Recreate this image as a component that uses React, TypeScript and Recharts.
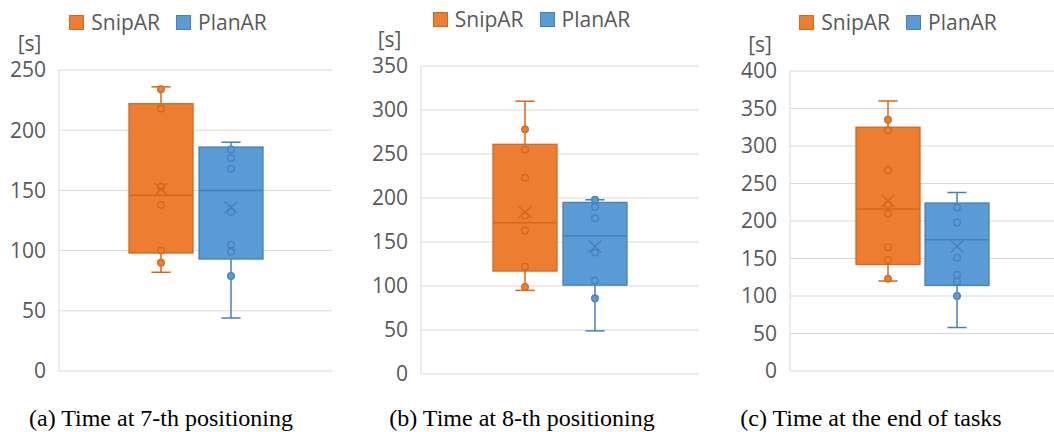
import React from 'react';
import { ComposedChart, Bar, XAxis, YAxis, CartesianGrid, Legend } from 'recharts';

// stats order: min, q1, median, q3, max, mean
const seriesNames = ['SnipAR', 'PlanAR'];

const snipStatsA = [82, 98, 146, 222, 236, 151];
const planStatsA = [44, 93, 150, 186, 190, 136];
const snipPointsA = [234, 218, 153, 138, 100, 90];
const planPointsA = [184, 177, 168, 132, 105, 99, 79];

const snipStatsB = [95, 117, 172, 261, 310, 184];
const planStatsB = [49, 101, 157, 195, 198, 145];
const snipPointsB = [278, 255, 223, 180, 163, 122, 99];
const planPointsB = [198, 190, 177, 138, 106, 86];

const snipStatsC = [120, 142, 216, 325, 360, 227];
const planStatsC = [58, 114, 175, 224, 238, 166];
const snipPointsC = [335, 321, 268, 222, 210, 165, 148, 123];
const planPointsC = [218, 198, 151, 128, 119, 100];

const ticksA = [0, 50, 100, 150, 200, 250];
const ticksB = [0, 50, 100, 150, 200, 250, 300, 350];
const ticksC = [0, 50, 100, 150, 200, 250, 300, 350, 400];

const captions = [
  '(a) Time at 7-th positioning',
  '(b) Time at 8-th positioning',
  '(c) Time at the end of tasks',
];

const COLORS = {
  SnipAR: { fill: '#ED7D31', stroke: '#D4681E' },
  PlanAR: { fill: '#5B9BD5', stroke: '#4680BE' },
};

const FONT = '"Open Sans", sans-serif';
const TEXT = '#595959';

const toStats = (s: number[], points: number[]) => ({
  min: s[0], q1: s[1], median: s[2], q3: s[3], max: s[4], mean: s[5], points,
});

const makeRow = (sStats, sPts, pStats, pPts) => ({
  name: 'time',
  SnipAR: toStats(sStats, sPts),
  PlanAR: toStats(pStats, pPts),
});

// box drawn from the bar rect that recharts gives for [q1, q3]
const BoxShape = (props: any) => {
  const { x, y, width, height, payload, series } = props;
  const s = payload[series];
  const c = COLORS[series];
  const py = (v: number) => y + (height * (s.q3 - v)) / (s.q3 - s.q1);
  const cx = x + width / 2;
  const cap = width * 0.15;
  const my = py(s.mean);
  return (
    <g>
      <line x1={cx} x2={cx} y1={py(s.q3)} y2={py(s.max)} stroke={c.stroke} strokeWidth={1.5} />
      <line x1={cx - cap} x2={cx + cap} y1={py(s.max)} y2={py(s.max)} stroke={c.stroke} strokeWidth={1.5} />
      <line x1={cx} x2={cx} y1={py(s.q1)} y2={py(s.min)} stroke={c.stroke} strokeWidth={1.5} />
      <line x1={cx - cap} x2={cx + cap} y1={py(s.min)} y2={py(s.min)} stroke={c.stroke} strokeWidth={1.5} />
      <rect x={x} y={y} width={width} height={height} fill={c.fill} stroke={c.stroke} strokeWidth={1.3} />
      <line x1={x} x2={x + width} y1={py(s.median)} y2={py(s.median)} stroke={c.stroke} strokeWidth={1.5} />
      {s.points.map((v: number, i: number) => (
        <circle key={i} cx={cx} cy={py(v)} r={3.3} fill={c.fill} stroke={c.stroke} strokeWidth={1.3} />
      ))}
      <line x1={cx - 6.5} x2={cx + 6.5} y1={my - 6} y2={my + 6} stroke={c.stroke} strokeWidth={1.4} />
      <line x1={cx - 6.5} x2={cx + 6.5} y1={my + 6} y2={my - 6} stroke={c.stroke} strokeWidth={1.4} />
    </g>
  );
};

const legendContent = (shift: number) => () => (
  <div
    style={{
      display: 'flex',
      justifyContent: 'center',
      alignItems: 'center',
      height: 24,
      transform: `translateX(${shift}px)`,
      fontFamily: FONT,
      fontSize: 21,
      color: TEXT,
    }}
  >
    {seriesNames.map((n, i) => (
      <div key={n} style={{ display: 'flex', alignItems: 'center', marginRight: i === 0 ? 16 : 0 }}>
        <div
          style={{
            width: 13,
            height: 13,
            background: COLORS[n].fill,
            border: `1px solid ${COLORS[n].stroke}`,
            marginRight: 7,
          }}
        />
        <span style={{ lineHeight: '24px' }}>{n}</span>
      </div>
    ))}
  </div>
);

const panels = [
  {
    row: makeRow(snipStatsA, snipPointsA, planStatsA, planPointsA),
    ticks: ticksA, left: 0, width: 340, axisW: 59,
    margin: { top: 70, right: 8, bottom: 29, left: 0 },
    legendTop: 10, shift: -2, barGap: 6, caption: captions[0], capX: 161,
  },
  {
    row: makeRow(snipStatsB, snipPointsB, planStatsB, planPointsB),
    ticks: ticksB, left: 358, width: 347, axisW: 63,
    margin: { top: 66, right: 6, bottom: 26, left: 0 },
    legendTop: 7, shift: 0, barGap: 6, caption: captions[1], capX: 522,
  },
  {
    row: makeRow(snipStatsC, snipPointsC, planStatsC, planPointsC),
    ticks: ticksC, left: 730, width: 324, axisW: 60,
    margin: { top: 71, right: 0, bottom: 29, left: 0 },
    legendTop: 10, shift: 6, barGap: 5, caption: captions[2], capX: 871,
  },
];

export default function App() {
  return (
    <div style={{ position: 'relative', width: 1054, height: 432, background: '#fff', overflow: 'hidden' }}>
      <style>{`body{margin:0}`}</style>
      {panels.map((p, idx) => (
        <React.Fragment key={idx}>
          <div style={{ position: 'absolute', left: p.left, top: 0 }}>
            <ComposedChart width={p.width} height={400} data={[p.row]} margin={p.margin} barGap={p.barGap}>
              <CartesianGrid vertical={false} stroke="#d9d9d9" />
              <XAxis
                dataKey="name"
                height={0}
                tick={false}
                tickLine={false}
                axisLine={{ stroke: '#d9d9d9' }}
              />
              <YAxis
                width={p.axisW}
                domain={[p.ticks[0], p.ticks[p.ticks.length - 1]]}
                ticks={p.ticks}
                interval={0}
                tickLine={false}
                tickSize={0}
                tickMargin={13}
                axisLine={{ stroke: '#d9d9d9' }}
                tick={{ fill: TEXT, fontSize: 21, fontFamily: FONT }}
                label={{ value: '[s]', position: 'top', offset: 19, fill: TEXT, fontSize: 21, fontFamily: FONT }}
              />
              <Legend
                layout="horizontal"
                verticalAlign="middle"
                align="center"
                wrapperStyle={{ top: p.legendTop, left: 0, width: p.width }}
                content={legendContent(p.shift)}
              />
              {seriesNames.map((n) => (
                <Bar
                  key={n}
                  name={n}
                  dataKey={(d: any) => [d[n].q1, d[n].q3]}
                  fill={COLORS[n].fill}
                  barSize={64}
                  isAnimationActive={false}
                  shape={(sp: any) => <BoxShape {...sp} series={n} />}
                />
              ))}
            </ComposedChart>
          </div>
          <div
            style={{
              position: 'absolute',
              left: p.capX - 200,
              width: 400,
              top: 406,
              textAlign: 'center',
              fontFamily: '"Liberation Serif", "Times New Roman", serif',
              fontSize: 24,
              lineHeight: 1,
              color: '#000',
            }}
          >
            {p.caption}
          </div>
        </React.Fragment>
      ))}
    </div>
  );
}
